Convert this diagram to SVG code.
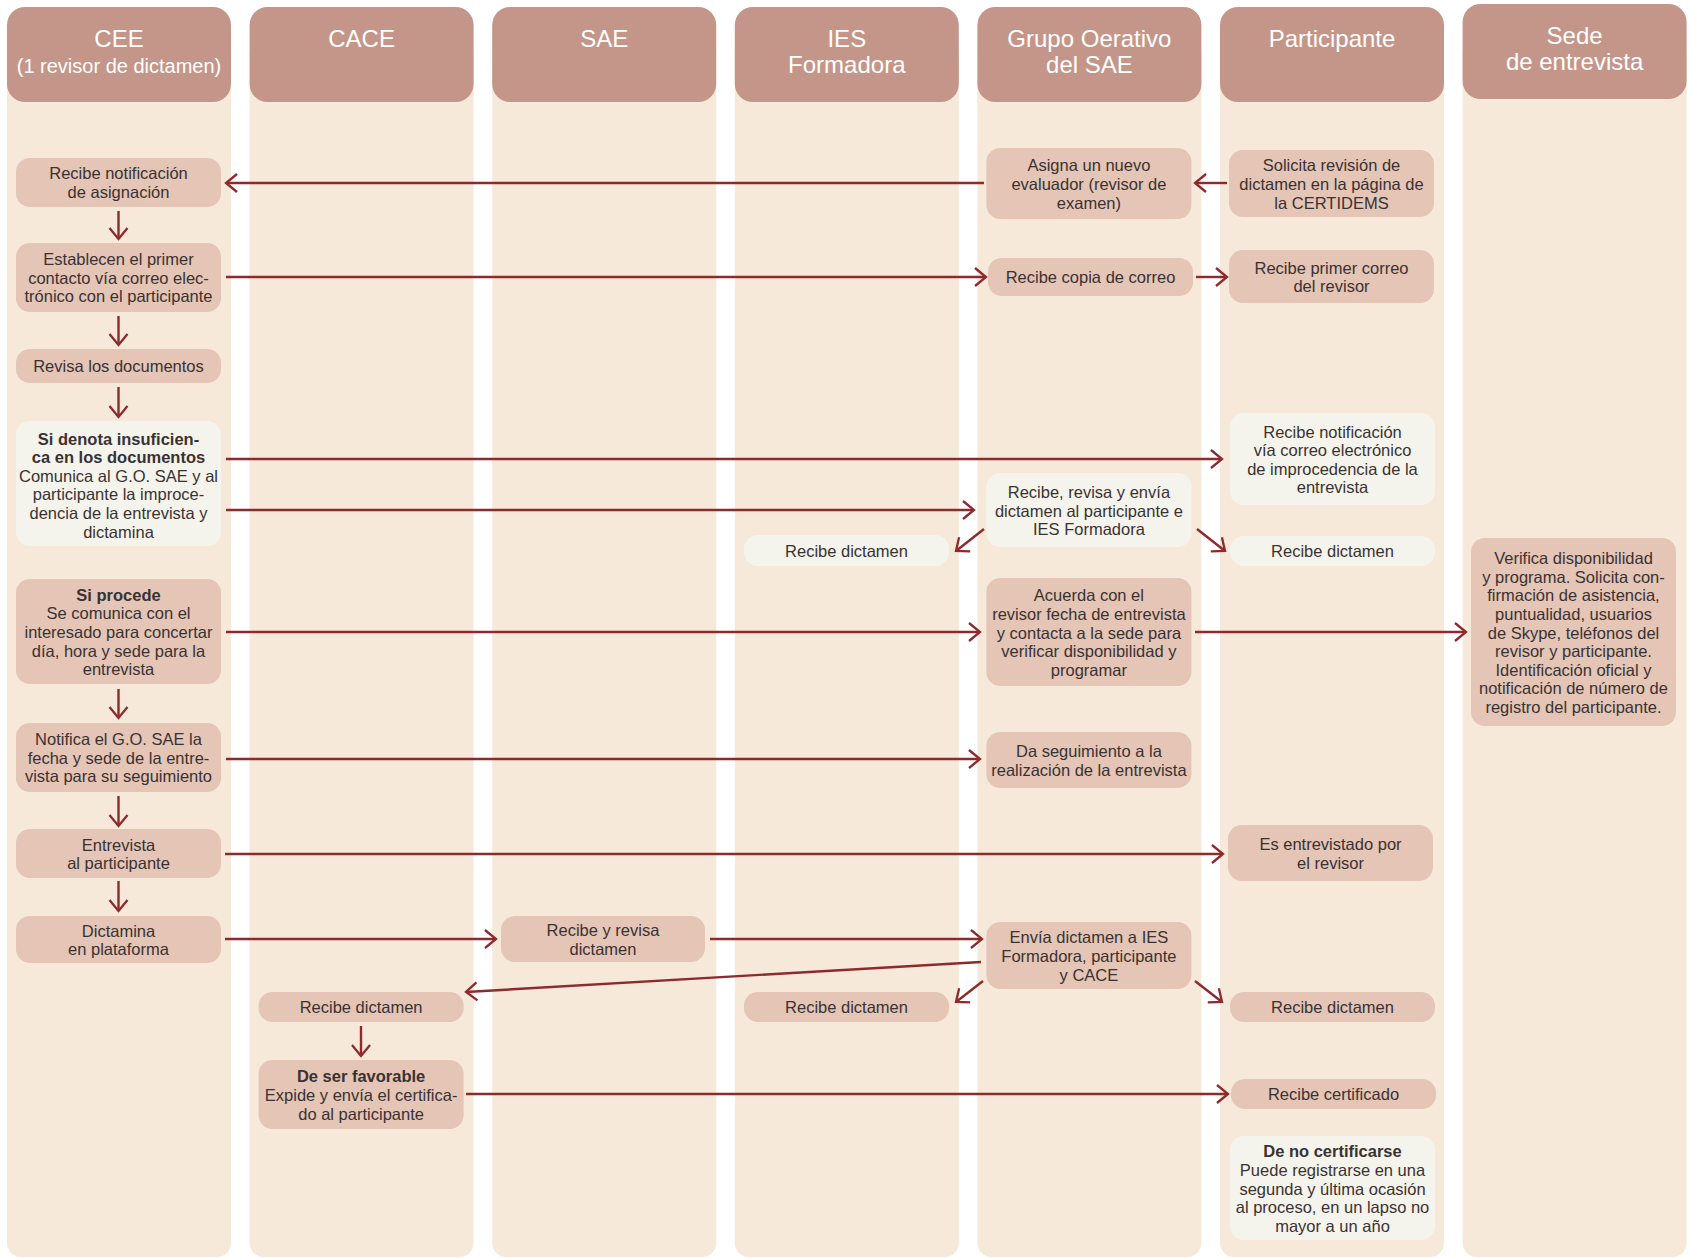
<svg xmlns="http://www.w3.org/2000/svg" width="1691" height="1258" viewBox="0 0 1691 1258">
<defs>
<style>
.lane{fill:#f6e9d9}
.head{fill:#c49689}
.node{fill:#e4c5b6}
.light{fill:#f5f4ec}
.ht{font-family:"Liberation Sans",Arial,sans-serif;font-size:24px;fill:#ffffff;text-anchor:middle}
.hs{font-size:20px}
.t{font-family:"Liberation Sans",Arial,sans-serif;font-size:16.5px;fill:#3a3232;text-anchor:middle}
.b{font-weight:bold}
.c{fill:none;stroke:#8e2a2d;stroke-width:2.4;marker-end:url(#ah)}
</style>
<marker id="ah" markerUnits="userSpaceOnUse" markerWidth="30" markerHeight="30" viewBox="-15 -15 30 30" refX="0" refY="0" orient="auto" overflow="visible">
<path d="M-11,-9 L0,0 L-11,9" fill="none" stroke="#8e2a2d" stroke-width="2.3"/>
</marker>
</defs>
<rect x="0" y="0" width="1691" height="1258" fill="#ffffff"/>

<g id="lanes">
<g id="lane-cee"><rect class="lane" x="7" y="40" width="224" height="1217" rx="14"/><rect class="head" x="7" y="7" width="224" height="95" rx="18"/>
<text class="ht" x="119" y="46.5">CEE</text><text class="ht hs" x="119" y="73">(1 revisor de dictamen)</text></g>
<g id="lane-cace"><rect class="lane" x="249.6" y="40" width="224" height="1217" rx="14"/><rect class="head" x="249.6" y="7" width="224" height="95" rx="18"/>
<text class="ht" x="361.6" y="46.5">CACE</text></g>
<g id="lane-sae"><rect class="lane" x="492.2" y="40" width="224" height="1217" rx="14"/><rect class="head" x="492.2" y="7" width="224" height="95" rx="18"/>
<text class="ht" x="604.2" y="46.5">SAE</text></g>
<g id="lane-ies"><rect class="lane" x="734.8" y="40" width="224" height="1217" rx="14"/><rect class="head" x="734.8" y="7" width="224" height="95" rx="18"/>
<text class="ht" x="846.8" y="46.5">IES</text><text class="ht" x="846.8" y="73">Formadora</text></g>
<g id="lane-go"><rect class="lane" x="977.4" y="40" width="224" height="1217" rx="14"/><rect class="head" x="977.4" y="7" width="224" height="95" rx="18"/>
<text class="ht" x="1089.4" y="46.5">Grupo Oerativo</text><text class="ht" x="1089.4" y="73">del SAE</text></g>
<g id="lane-part"><rect class="lane" x="1220" y="40" width="224" height="1217" rx="14"/><rect class="head" x="1220" y="7" width="224" height="95" rx="18"/>
<text class="ht" x="1332" y="46.5">Participante</text></g>
<g id="lane-sede"><rect class="lane" x="1462.6" y="40" width="224" height="1217" rx="14"/><rect class="head" x="1462.6" y="4" width="224" height="95" rx="18"/>
<text class="ht" x="1574.6" y="43.5">Sede</text><text class="ht" x="1574.6" y="70">de entrevista</text></g>
</g>

<g id="connectors">
<path class="c" d="M984,183 H226"/>
<path class="c" d="M1227,183 H1195"/>
<path class="c" d="M226,277 H986"/>
<path class="c" d="M1196,277 H1227"/>
<path class="c" d="M226,459 H1222"/>
<path class="c" d="M226,510 H974"/>
<path class="c" d="M984,529 L956,551"/>
<path class="c" d="M1197,529 L1225,551"/>
<path class="c" d="M226,632 H980"/>
<path class="c" d="M1195,632 H1466"/>
<path class="c" d="M226,759 H980"/>
<path class="c" d="M225,854 H1223"/>
<path class="c" d="M225,939 H496"/>
<path class="c" d="M710,939 H982"/>
<path class="c" d="M981,962 L466,992"/>
<path class="c" d="M983,981 L956,1002"/>
<path class="c" d="M1195,981 L1222,1002"/>
<path class="c" d="M466,1094 H1228"/>
<path class="c" d="M118.5,211 V239"/>
<path class="c" d="M118.5,316 V345"/>
<path class="c" d="M118.5,387 V417"/>
<path class="c" d="M118.5,689 V718"/>
<path class="c" d="M118.5,796 V826"/>
<path class="c" d="M118.5,881 V911"/>
<path class="c" d="M361,1026 V1056"/>
</g>

<g id="cee-1"><rect class="node" x="16" y="158" width="205" height="49" rx="14"/>
<text class="t"><tspan x="118.5" y="179.2">Recibe notificación</tspan><tspan x="118.5" y="197.8">de asignación</tspan></text></g>
<g id="cee-2"><rect class="node" x="16" y="243" width="205" height="69" rx="14"/>
<text class="t"><tspan x="118.5" y="265">Establecen el primer</tspan><tspan x="118.5" y="283.6">contacto vía correo elec-</tspan><tspan x="118.5" y="302.2">trónico con el participante</tspan></text></g>
<g id="cee-3"><rect class="node" x="16" y="349" width="205" height="34" rx="14"/>
<text class="t"><tspan x="118.5" y="372">Revisa los documentos</tspan></text></g>
<g id="cee-4"><rect class="light" x="16" y="421" width="205" height="125" rx="14"/>
<text class="t"><tspan class="b" x="118.5" y="444.5">Si denota insuficien-</tspan><tspan class="b" x="118.5" y="463.1">ca en los documentos</tspan><tspan x="118.5" y="481.7">Comunica al G.O. SAE y al</tspan><tspan x="118.5" y="500.3">participante la improce-</tspan><tspan x="118.5" y="518.9">dencia de la entrevista y</tspan><tspan x="118.5" y="537.5">dictamina</tspan></text></g>
<g id="cee-5"><rect class="node" x="16" y="579" width="205" height="105" rx="14"/>
<text class="t"><tspan class="b" x="118.5" y="600.8">Si procede</tspan><tspan x="118.5" y="619.4">Se comunica con el</tspan><tspan x="118.5" y="638">interesado para concertar</tspan><tspan x="118.5" y="656.6">día, hora y sede para la</tspan><tspan x="118.5" y="675.2">entrevista</tspan></text></g>
<g id="cee-6"><rect class="node" x="16" y="723" width="205" height="69" rx="14"/>
<text class="t"><tspan x="118.5" y="745">Notifica el G.O. SAE la</tspan><tspan x="118.5" y="763.6">fecha y sede de la entre-</tspan><tspan x="118.5" y="782.2">vista para su seguimiento</tspan></text></g>
<g id="cee-7"><rect class="node" x="16" y="829" width="205" height="49" rx="14"/>
<text class="t"><tspan x="118.5" y="850.7">Entrevista</tspan><tspan x="118.5" y="869.3">al participante</tspan></text></g>
<g id="cee-8"><rect class="node" x="16" y="916" width="205" height="47" rx="14"/>
<text class="t"><tspan x="118.5" y="936.7">Dictamina</tspan><tspan x="118.5" y="955.3">en plataforma</tspan></text></g>

<g id="cace-1"><rect class="node" x="258.6" y="992" width="205" height="30" rx="14"/>
<text class="t"><tspan x="361.1" y="1013">Recibe dictamen</tspan></text></g>
<g id="cace-2"><rect class="node" x="258.6" y="1060" width="205" height="69" rx="14"/>
<text class="t"><tspan class="b" x="361.1" y="1082.4">De ser favorable</tspan><tspan x="361.1" y="1101">Expide y envía el certifica-</tspan><tspan x="361.1" y="1119.6">do al participante</tspan></text></g>

<g id="sae-1"><rect class="node" x="501" y="916" width="204" height="46" rx="14"/>
<text class="t"><tspan x="603" y="936.2">Recibe y revisa</tspan><tspan x="603" y="954.8">dictamen</tspan></text></g>

<g id="ies-1"><rect class="light" x="744" y="535" width="205" height="31" rx="14"/>
<text class="t"><tspan x="846.5" y="556.5">Recibe dictamen</tspan></text></g>
<g id="ies-2"><rect class="node" x="744" y="992" width="205" height="30" rx="14"/>
<text class="t"><tspan x="846.5" y="1013">Recibe dictamen</tspan></text></g>

<g id="go-1"><rect class="node" x="986.4" y="148" width="205" height="71" rx="14"/>
<text class="t"><tspan x="1088.9" y="171.4">Asigna un nuevo</tspan><tspan x="1088.9" y="190">evaluador (revisor de</tspan><tspan x="1088.9" y="208.6">examen)</tspan></text></g>
<g id="go-2"><rect class="node" x="988" y="258" width="205" height="38" rx="14"/>
<text class="t"><tspan x="1090.5" y="283">Recibe copia de correo</tspan></text></g>
<g id="go-3"><rect class="light" x="986.4" y="473" width="205" height="74" rx="14"/>
<text class="t"><tspan x="1088.9" y="497.9">Recibe, revisa y envía</tspan><tspan x="1088.9" y="516.5">dictamen al participante e</tspan><tspan x="1088.9" y="535.1">IES Formadora</tspan></text></g>
<g id="go-4"><rect class="node" x="986.4" y="578" width="205" height="108" rx="14"/>
<text class="t"><tspan x="1088.9" y="601.3">Acuerda con el</tspan><tspan x="1088.9" y="619.9">revisor fecha de entrevista</tspan><tspan x="1088.9" y="638.5">y contacta a la sede para</tspan><tspan x="1088.9" y="657.1">verificar disponibilidad y</tspan><tspan x="1088.9" y="675.7">programar</tspan></text></g>
<g id="go-5"><rect class="node" x="986.4" y="732" width="205" height="56" rx="14"/>
<text class="t"><tspan x="1088.9" y="757.2">Da seguimiento a la</tspan><tspan x="1088.9" y="775.8">realización de la entrevista</tspan></text></g>
<g id="go-6"><rect class="node" x="986.4" y="922" width="205" height="67" rx="14"/>
<text class="t"><tspan x="1088.9" y="943.4">Envía dictamen a IES</tspan><tspan x="1088.9" y="962">Formadora, participante</tspan><tspan x="1088.9" y="980.6">y CACE</tspan></text></g>

<g id="part-1"><rect class="node" x="1229" y="150" width="205" height="67" rx="14"/>
<text class="t"><tspan x="1331.5" y="171.4">Solicita revisión de</tspan><tspan x="1331.5" y="190">dictamen en la página de</tspan><tspan x="1331.5" y="208.6">la CERTIDEMS</tspan></text></g>
<g id="part-2"><rect class="node" x="1229" y="250" width="205" height="53" rx="14"/>
<text class="t"><tspan x="1331.5" y="273.7">Recibe primer correo</tspan><tspan x="1331.5" y="292.3">del revisor</tspan></text></g>
<g id="part-3"><rect class="light" x="1230" y="413" width="205" height="92" rx="14"/>
<text class="t"><tspan x="1332.5" y="437.6">Recibe notificación</tspan><tspan x="1332.5" y="456.2">vía correo electrónico</tspan><tspan x="1332.5" y="474.8">de improcedencia de la</tspan><tspan x="1332.5" y="493.4">entrevista</tspan></text></g>
<g id="part-4"><rect class="light" x="1230" y="536" width="205" height="30" rx="14"/>
<text class="t"><tspan x="1332.5" y="557">Recibe dictamen</tspan></text></g>
<g id="part-5"><rect class="node" x="1228" y="825" width="205" height="56" rx="14"/>
<text class="t"><tspan x="1330.5" y="850.2">Es entrevistado por</tspan><tspan x="1330.5" y="868.8">el revisor</tspan></text></g>
<g id="part-6"><rect class="node" x="1230" y="992" width="205" height="30" rx="14"/>
<text class="t"><tspan x="1332.5" y="1013">Recibe dictamen</tspan></text></g>
<g id="part-7"><rect class="node" x="1231" y="1079" width="205" height="30" rx="14"/>
<text class="t"><tspan x="1333.5" y="1100">Recibe certificado</tspan></text></g>
<g id="part-8"><rect class="light" x="1230" y="1136" width="205" height="104" rx="14"/>
<text class="t"><tspan class="b" x="1332.5" y="1157.3">De no certificarse</tspan><tspan x="1332.5" y="1175.9">Puede registrarse en una</tspan><tspan x="1332.5" y="1194.5">segunda y última ocasión</tspan><tspan x="1332.5" y="1213.1">al proceso, en un lapso no</tspan><tspan x="1332.5" y="1231.7">mayor a un año</tspan></text></g>

<g id="sede-1"><rect class="node" x="1471" y="538" width="205" height="188" rx="14"/>
<text class="t"><tspan x="1573.5" y="564.1">Verifica disponibilidad</tspan><tspan x="1573.5" y="582.7">y programa. Solicita con-</tspan><tspan x="1573.5" y="601.3">firmación de asistencia,</tspan><tspan x="1573.5" y="619.9">puntualidad, usuarios</tspan><tspan x="1573.5" y="638.5">de Skype, teléfonos del</tspan><tspan x="1573.5" y="657.1">revisor y participante.</tspan><tspan x="1573.5" y="675.7">Identificación oficial y</tspan><tspan x="1573.5" y="694.3">notificación de número de</tspan><tspan x="1573.5" y="712.9">registro del participante.</tspan></text></g>
</svg>
